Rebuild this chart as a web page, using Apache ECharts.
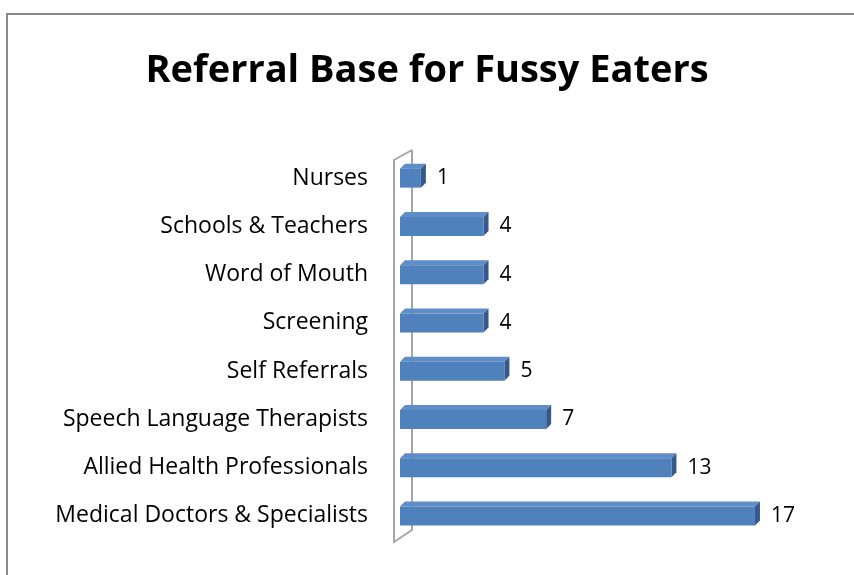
<!DOCTYPE html>
<html><head><meta charset="utf-8">
<script src="https://cdn.jsdelivr.net/npm/echarts@6/dist/echarts.min.js"></script>
<style>html,body{margin:0;padding:0;background:#fff}#c{width:854px;height:575px}</style>
</head><body><div id="c"></div>
<script>
const categories = ["Medical Doctors & Specialists","Allied Health Professionals","Speech Language Therapists","Self Referrals","Screening","Word of Mouth","Schools & Teachers","Nurses"];
const values = [17,13,7,5,4,4,4,1];
const titleText = "Referral Base for Fussy Eaters";

const chart = echarts.init(document.getElementById('c'));
const DX = 5, DY = -5, BH = 19;

function renderBar(params, api) {
  const v = api.value(1);
  const c = api.value(0);
  const p0 = api.coord([0, c]);
  const p1 = api.coord([v, c]);
  const x0 = p0[0], x1 = p1[0], yc = p0[1];
  const yt = yc - BH/2, yb = yc + BH/2;
  return {
    type: 'group',
    children: [
      {type:'polygon', shape:{points:[[x0,yt],[x1,yt],[x1+DX,yt+DY],[x0+DX,yt+DY]]}, style:{fill:'#5E8DC8'}},
      {type:'polygon', shape:{points:[[x1,yt],[x1+DX,yt+DY],[x1+DX,yb+DY],[x1,yb]]}, style:{fill:'#35598A'}},
      {type:'rect', shape:{x:x0,y:yt,width:x1-x0,height:BH}, style:{fill:'#4F81BD'}},
      {type:'text', style:{text:String(v), x:x1+16, y:yc, textVerticalAlign:'middle', textAlign:'left', font:'21px "Open Sans", sans-serif', fill:'#000'}}
    ]
  };
}

function renderWall(params, api) {
  const cs = params.coordSys;
  const x = cs.x;
  const top = cs.y, bot = cs.y + cs.height;
  return {
    type:'polyline',
    shape:{points:[[x+12, top-4],[x-6, top+6],[x-6, bot+2],[x+12, bot-10],[x+12, top-4]]},
    style:{stroke:'#A6A6A6', lineWidth:2, fill:null}
  };
}

chart.setOption({
  animation:false,
  title:{text:titleText, left:'center', top:47, textStyle:{fontFamily:'"Open Sans", sans-serif', fontWeight:'bold', fontSize:38, color:'#000'}},
  graphic:[{type:'polyline', shape:{points:[[7,575],[7,14],[854,14]]}, style:{stroke:'#888', lineWidth:2, fill:null}}],
  grid:{left:400, top:154, width:417.6, height:386},
  xAxis:{type:'value', min:0, max:20, show:false},
  yAxis:{type:'category', data:categories, axisLine:{show:false}, axisTick:{show:false},
    axisLabel:{margin:32, fontSize:23, color:'#000', fontFamily:'"Open Sans", sans-serif'}},
  series:[
    {type:'custom', renderItem:renderWall, data:[[0,0]], z:1, silent:true},
    {type:'custom', renderItem:renderBar, encode:{x:1,y:0}, data:categories.map((c,i)=>[i, values[i]]), z:2}
  ]
});
</script></body></html>
